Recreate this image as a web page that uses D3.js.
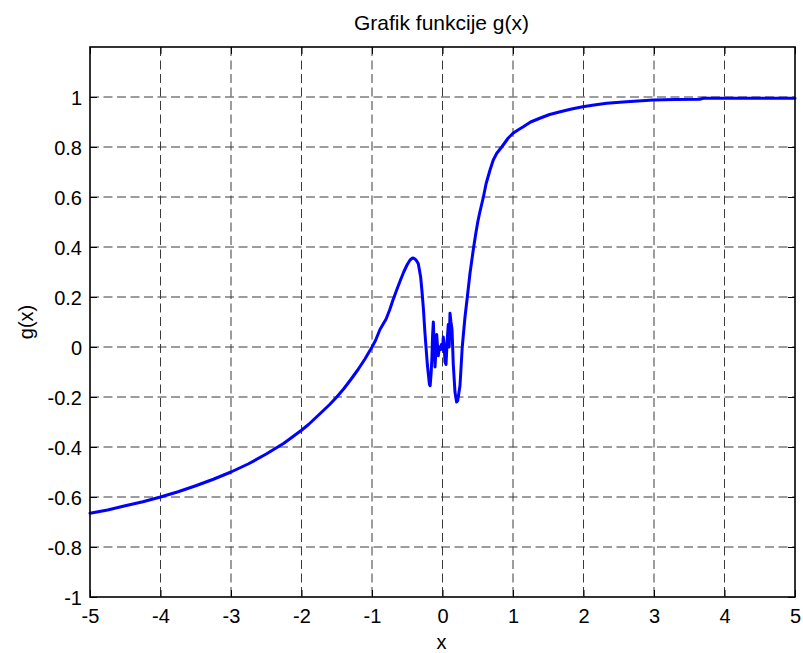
<!DOCTYPE html>
<html>
<head>
<meta charset="utf-8">
<script src="https://cdn.jsdelivr.net/npm/d3@7"></script>
<style>
  html, body { margin: 0; padding: 0; background: #fff; }
  svg { display: block; font-family: "Liberation Sans", Arial, sans-serif; }
</style>
</head>
<body>
<div id="chart"></div>
<script>
// ---- data ----
const titleText = "Grafik funkcije g(x)";
const xLabelText = "x";
const yLabelText = "g(x)";
const xTicks = [-5, -4, -3, -2, -1, 0, 1, 2, 3, 4, 5];
const yTicks = [-1, -0.8, -0.6, -0.4, -0.2, 0, 0.2, 0.4, 0.6, 0.8, 1];
const xDomain = [-5, 5];
const yDomain = [-1, 1.2];

const xValues = [
  -5, -4.75, -4.5, -4.25, -4, -3.75, -3.5, -3.25, -3, -2.75, -2.5, -2.25, -2, -1.9, -1.75, -1.6, -1.5, -1.4,
  -1.3, -1.2, -1.1, -1, -0.95, -0.887, -0.8, -0.75, -0.7, -0.65, -0.6, -0.55, -0.5, -0.46, -0.43, -0.414, -0.39,
  -0.37, -0.343,
  -0.31, -0.29, -0.27, -0.25, -0.234, -0.215, -0.2, -0.185, -0.175, -0.16, -0.15, -0.14, -0.13, -0.12, -0.106,
  -0.095, -0.082, -0.07, -0.06, -0.045, -0.03, -0.015, 0, 0.011, 0.025, 0.035, 0.05, 0.065, 0.082, 0.095, 0.106,
  0.12, 0.135, 0.153, 0.177, 0.2, 0.215, 0.248, 0.28, 0.319, 0.352, 0.39, 0.437, 0.47, 0.5, 0.53, 0.58, 0.62,
  0.674, 0.72, 0.77, 0.84, 0.93, 1.0, 1.07, 1.146, 1.25, 1.38, 1.52, 1.67, 1.83, 1.99, 2.15, 2.33, 2.61, 2.99,
  3.3, 3.65, 3.7, 4.3, 5
];
const gValues = [
  -0.665, -0.652, -0.635, -0.619, -0.6, -0.579, -0.555, -0.529, -0.5, -0.467, -0.428, -0.385, -0.333, -0.31, -0.27,
  -0.23, -0.2, -0.167, -0.13, -0.091, -0.048, 0, 0.026, 0.07, 0.112, 0.148, 0.19, 0.228, 0.265, 0.3, 0.33, 0.348,
  0.355, 0.356, 0.352, 0.346, 0.333,
  0.28, 0.22, 0.15, 0.06, 0, -0.07, -0.11, -0.15, -0.155, -0.1, -0.04, 0.05, 0.1, 0.02, -0.08,
  -0.02, 0.05, 0, -0.035, 0, -0.01, 0.01, -0.01, 0.04, 0, -0.06, -0.07, 0.02, 0.09, 0, 0.135,
  0.1, 0.07, -0.07, -0.18, -0.22, -0.215, -0.155, 0, 0.12, 0.2, 0.295, 0.39, 0.45, 0.5, 0.54, 0.6, 0.655,
  0.708, 0.748, 0.775, 0.8, 0.835, 0.855, 0.868, 0.881, 0.9, 0.915, 0.93, 0.941, 0.952, 0.961, 0.968, 0.975, 0.981, 0.988,
  0.99, 0.991, 0.995, 0.995, 0.995
];

// ---- layout ----
const W = 803, H = 653;
const plot = { left: 90, right: 795, top: 47, bottom: 597 };
const fontSize = 20;

const svg = d3.select("#chart").append("svg").attr("width", W).attr("height", H);

const x = d3.scaleLinear().domain(xDomain).range([plot.left, plot.right]);
const y = d3.scaleLinear().domain(yDomain).range([plot.bottom, plot.top]);

// grid
const grid = svg.append("g").attr("class", "grid");
grid.selectAll("line.gx").data(xTicks.slice(1, -1)).join("line")
  .attr("x1", d => x(d)).attr("x2", d => x(d))
  .attr("y1", plot.top).attr("y2", plot.bottom)
  .attr("stroke", "#3a3a3a").attr("stroke-width", 1).attr("stroke-dasharray", "9,4.5");
grid.selectAll("line.gy").data(yTicks.slice(1)).join("line")
  .attr("y1", d => y(d)).attr("y2", d => y(d))
  .attr("x1", plot.left).attr("x2", plot.right)
  .attr("stroke", "#3a3a3a").attr("stroke-width", 1).attr("stroke-dasharray", "9,4.5");

// axes (ticks inside, MATLAB style)
const tickLen = 7;
const fmt = d => String(+(+d).toFixed(1));
const xAxisB = svg.append("g").attr("transform", `translate(0,${plot.bottom})`)
  .call(d3.axisBottom(x).tickValues(xTicks).tickSizeInner(-tickLen).tickSizeOuter(0).tickFormat(fmt));
const xAxisT = svg.append("g").attr("transform", `translate(0,${plot.top})`)
  .call(d3.axisTop(x).tickValues(xTicks).tickSizeInner(-tickLen).tickSizeOuter(0).tickFormat(""));
const yAxisL = svg.append("g").attr("transform", `translate(${plot.left},0)`)
  .call(d3.axisLeft(y).tickValues(yTicks).tickSizeInner(-tickLen).tickSizeOuter(0).tickPadding(8).tickFormat(fmt));
const yAxisR = svg.append("g").attr("transform", `translate(${plot.right},0)`)
  .call(d3.axisRight(y).tickValues(yTicks).tickSizeInner(-tickLen).tickSizeOuter(0).tickFormat(""));

[xAxisB, xAxisT, yAxisL, yAxisR].forEach(g => {
  g.select(".domain").remove();
  g.selectAll(".tick line").attr("stroke", "#000").attr("stroke-width", 1);
  g.selectAll(".tick text").attr("font-size", fontSize).attr("fill", "#000")
    .attr("font-family", "Liberation Sans, Arial, sans-serif");
});
xAxisB.selectAll(".tick text").attr("dy", null).attr("y", 26);
yAxisL.selectAll(".tick text").attr("dy", "0.35em");

// curve
const line = d3.line().x((d, i) => x(xValues[i])).y((d, i) => y(gValues[i])).curve(d3.curveLinear);
svg.append("path").datum(gValues)
  .attr("d", line)
  .attr("fill", "none").attr("stroke", "#0000ff").attr("stroke-width", 3)
  .attr("stroke-linejoin", "round").attr("stroke-linecap", "round");

// frame
svg.append("rect")
  .attr("x", plot.left).attr("y", plot.top)
  .attr("width", plot.right - plot.left).attr("height", plot.bottom - plot.top)
  .attr("fill", "none").attr("stroke", "#000").attr("stroke-width", 1.6);

// labels
svg.append("text").attr("x", (plot.left + plot.right) / 2 - 1).attr("y", 30)
  .attr("text-anchor", "middle").attr("font-size", 21).text(titleText);
svg.append("text").attr("x", (plot.left + plot.right) / 2 - 1).attr("y", 649)
  .attr("text-anchor", "middle").attr("font-size", fontSize).text(xLabelText);
svg.append("text").attr("transform", `translate(33,${(plot.top + plot.bottom) / 2}) rotate(-90)`)
  .attr("text-anchor", "middle").attr("font-size", fontSize).text(yLabelText);
</script>
</body>
</html>
